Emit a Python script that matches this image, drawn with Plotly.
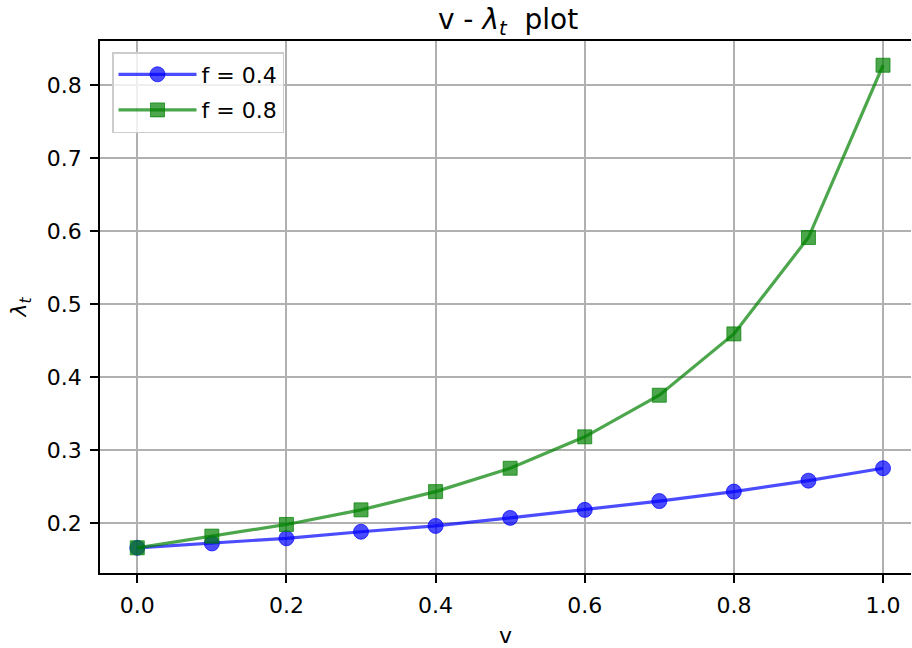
import plotly.graph_objects as go

v = [0.0, 0.1, 0.2, 0.3, 0.4, 0.5, 0.6, 0.7, 0.8, 0.9, 1.0]
lam_f04 = [0.166, 0.172, 0.179, 0.188, 0.196, 0.207, 0.218, 0.230, 0.243, 0.258, 0.275]
lam_f08 = [0.166, 0.182, 0.198, 0.218, 0.243, 0.275, 0.318, 0.375, 0.459, 0.591, 0.827]
x_ticks = [0.0, 0.2, 0.4, 0.6, 0.8, 1.0]
x_tick_labels = ["0.0", "0.2", "0.4", "0.6", "0.8", "1.0"]
y_ticks = [0.2, 0.3, 0.4, 0.5, 0.6, 0.7, 0.8]
y_tick_labels = ["0.2", "0.3", "0.4", "0.5", "0.6", "0.7", "0.8"]

FONT = "DejaVu Sans"
blue = "rgba(0,0,255,0.7)"
green = "rgba(0,128,0,0.7)"

fig = go.Figure()
fig.add_trace(go.Scatter(
    x=v, y=lam_f04, mode="lines+markers", name="f = 0.4", legendgroup="a",
    line=dict(color=blue, width=3.2),
    marker=dict(symbol="circle", size=15, color=blue, line=dict(color=blue, width=1)),
))
fig.add_trace(go.Scatter(
    x=v, y=lam_f08, mode="lines+markers", name="f = 0.8", legendgroup="b",
    line=dict(color=green, width=3.2),
    marker=dict(symbol="square", size=14, color=green, line=dict(color=green, width=1)),
))

fig.update_layout(
    width=912, height=648,
    margin=dict(l=100, r=1, t=41, b=75),
    paper_bgcolor="white", plot_bgcolor="white",
    font=dict(family=FONT, size=22, color="black"),
    title=dict(text="v - <i>λ<sub>t</sub></i>&nbsp; plot", x=(508 - 100) / 811, xref="paper", xanchor="center",
               y=1 - 19 / 648, yref="container", yanchor="middle",
               font=dict(family=FONT, size=28, color="black")),
    legend=dict(x=12 / 811, y=1 - 11 / 532, xanchor="left", yanchor="top",
                bgcolor="rgba(255,255,255,0.8)", bordercolor="#cccccc", borderwidth=1.5,
                font=dict(family=FONT, size=22), traceorder="grouped", tracegroupgap=4,
                itemwidth=78),
    showlegend=True,
)
fig.update_xaxes(
    range=[-0.05, 1.0375], tickvals=x_ticks, ticktext=x_tick_labels,
    showgrid=True, gridcolor="#b0b0b0", gridwidth=1.8, zeroline=False,
    showline=True, linecolor="black", linewidth=1.8, mirror=True,
    ticks="outside", ticklen=8, tickwidth=1.8, tickcolor="black",
    ticklabelstandoff=4, automargin=False,
    title=dict(text="v", font=dict(family=FONT, size=22), standoff=14),
)
fig.update_yaxes(
    range=[0.1315, 0.8602], tickvals=y_ticks, ticktext=y_tick_labels,
    showgrid=True, gridcolor="#b0b0b0", gridwidth=1.8, zeroline=False,
    showline=True, linecolor="black", linewidth=1.8, mirror=False,
    ticks="outside", ticklen=8, tickwidth=1.8, tickcolor="black",
    ticklabelstandoff=4, automargin=False,
    title=dict(text="<i>λ<sub>t</sub></i>", font=dict(family=FONT, size=22), standoff=14),
)
fig.write_html("out.html")
